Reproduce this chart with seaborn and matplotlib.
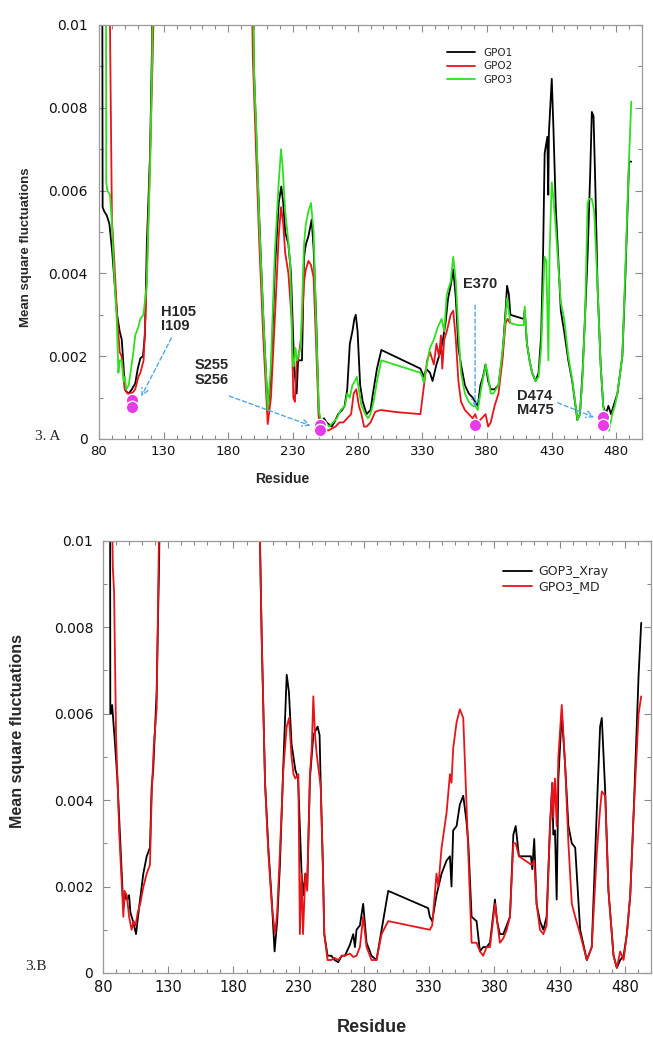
import matplotlib
matplotlib.use("Agg")
import matplotlib.pyplot as plt
from matplotlib.ticker import MultipleLocator
import pandas as pd
import seaborn as sns

# ---------------- data ----------------
x_ticks = [80, 130, 180, 230, 280, 330, 380, 430, 480]
y_ticks = [0, 0.002, 0.004, 0.006, 0.008, 0.01]
y_tick_labels = ["0", "0.002", "0.004", "0.006", "0.008", "0.01"]

series_a = ["GPO1", "GPO2", "GPO3"]
series_b = ["GOP3_Xray", "GPO3_MD"]

gpo1 = [(82.5, 0.012), (82.8, 0.0056), (84, 0.0055), (86, 0.0054), (88, 0.0052), (90, 0.0046), (92, 0.0038),
        (94, 0.003), (95, 0.0028), (96, 0.0026), (97.6, 0.0024), (99, 0.00175), (100, 0.0012), (101, 0.00115),
        (103, 0.0011), (105, 0.00118), (108, 0.00134), (110, 0.0017), (112, 0.00195), (114, 0.002),
        (115.5, 0.0025), (117, 0.0047), (119.5, 0.0069), (121, 0.0095), (122, 0.012),
        (198, 0.012), (200, 0.0088), (202, 0.007), (204, 0.0053), (207, 0.003), (210.5, 0.0007), (213, 0.0015),
        (216, 0.0041), (219, 0.0057), (221, 0.0061), (222.5, 0.0057), (224, 0.005), (226.5, 0.0047),
        (228.5, 0.004), (231, 0.0017), (232.9, 0.0011), (234, 0.0019), (237, 0.0019), (238.6, 0.0044),
        (240, 0.0047), (242, 0.0049), (244.5, 0.0053), (246, 0.0046), (248, 0.0029), (250, 0.0006),
        (252, 0.0004), (254, 0.0005), (256, 0.0004), (258, 0.00035), (260, 0.0003), (262, 0.0004),
        (265, 0.0006), (268, 0.0007), (270, 0.0008), (272, 0.0012), (274, 0.0023), (276, 0.0026),
        (277.5, 0.0029), (278.6, 0.003), (280, 0.0026), (282, 0.0013), (284, 0.0009), (287, 0.0006),
        (290, 0.0007), (292.4, 0.0012), (295, 0.0017), (298.4, 0.00215), (328.6, 0.0017), (330, 0.0016),
        (331.5, 0.0015), (333, 0.0017), (336, 0.0016), (338, 0.0014), (341, 0.0018), (344, 0.0021),
        (346, 0.0024), (348, 0.0028), (350, 0.0034), (352, 0.0037), (354, 0.0041), (356, 0.0034),
        (358, 0.0022), (360, 0.0018), (363, 0.0013), (366, 0.0011), (369, 0.001), (371, 0.0009),
        (373, 0.0008), (375, 0.0013), (377, 0.0015), (379, 0.0018), (381, 0.0014), (383, 0.0012),
        (386, 0.0012), (389, 0.0013), (392, 0.002), (394.5, 0.0031), (395.6, 0.0037), (397, 0.0035),
        (398.2, 0.003), (408.5, 0.0029), (409.3, 0.0031), (411, 0.0023), (413, 0.0019), (415, 0.0016),
        (417.7, 0.0014), (420, 0.0016), (422, 0.0025), (423.5, 0.0045), (424.7, 0.0069), (426.8, 0.0073),
        (427.5, 0.0059), (428, 0.0074), (430.2, 0.0087), (431.5, 0.0075), (433.3, 0.0056), (435, 0.0045),
        (437.2, 0.0031), (439.8, 0.0026), (443, 0.0019), (446, 0.0014), (450, 0.00046), (452, 0.0006),
        (454, 0.0016), (456, 0.003), (458, 0.0045), (460, 0.0065), (461.2, 0.0079), (462.5, 0.0078),
        (464, 0.006), (465.6, 0.0037), (468, 0.0018), (470, 0.0008), (472, 0.0006), (474, 0.0008),
        (476, 0.0006), (478, 0.0008), (481, 0.0011), (484.8, 0.002), (487, 0.0038), (490, 0.0067),
        (491.7, 0.0067)]

gpo2 = [(87.9, 0.012), (88.8, 0.009), (90, 0.0053), (92, 0.0042), (94, 0.003), (96, 0.0021), (97.5, 0.002),
        (99, 0.0015), (100, 0.0012), (102, 0.0011), (104, 0.0011), (106, 0.00112), (108, 0.0012),
        (110.4, 0.0015), (112, 0.0016), (114.5, 0.0019), (116, 0.003), (117.5, 0.0045), (119.5, 0.0068),
        (121.5, 0.0092), (123.3, 0.012),
        (197.7, 0.012), (199, 0.0092), (201, 0.0074), (204, 0.0047), (207, 0.0025), (210.5, 0.00036),
        (213, 0.001), (216, 0.0029), (219, 0.0049), (220.8, 0.0056), (222.5, 0.0052), (224, 0.0045),
        (226.5, 0.004), (229, 0.0029), (230.3, 0.001), (231.5, 0.0009), (232.9, 0.0019), (234, 0.0019),
        (236.5, 0.0025), (238.6, 0.0038), (240, 0.0041), (242, 0.0043), (244, 0.0042), (246, 0.0039),
        (248, 0.0022), (250, 0.0005), (252, 0.0003), (254, 0.0003), (257, 0.0002), (260, 0.00025),
        (263, 0.0003), (266, 0.0004), (269, 0.0004), (272, 0.0005), (275, 0.0006), (277, 0.0011),
        (279, 0.0012), (281, 0.0008), (283, 0.0006), (285, 0.0003), (287, 0.0003), (290, 0.0004),
        (293.7, 0.00066), (298, 0.0007), (310, 0.00065), (328.6, 0.0006), (331, 0.0012), (333.8, 0.0019),
        (336, 0.0021), (339, 0.0018), (341, 0.0023), (343, 0.002), (344.5, 0.0025), (345.5, 0.0017),
        (347, 0.0024), (349, 0.0026), (352, 0.003), (354, 0.0031), (356, 0.0024), (358, 0.0014),
        (360, 0.0009), (363, 0.0007), (366, 0.0006), (369, 0.0005), (371, 0.0006), (373, 0.0004),
        (376, 0.0005), (379, 0.0006), (381, 0.0003), (383, 0.0004), (386, 0.0008), (389, 0.0011),
        (392, 0.0019), (394.5, 0.0028), (396, 0.0029), (398, 0.0028)]

gpo3 = [(85.4, 0.012), (85.6, 0.0062), (86.5, 0.006), (88.5, 0.0059), (90, 0.0052), (92, 0.0038),
        (93.7, 0.0029), (95, 0.0016), (96, 0.0019), (97.5, 0.0019), (99, 0.0014), (100, 0.0015),
        (101, 0.0012), (103, 0.0013), (106.6, 0.0021), (108, 0.0025), (110.4, 0.0027), (112, 0.0029),
        (114.3, 0.003), (116.9, 0.0037), (118, 0.005), (119.5, 0.0065), (121, 0.009), (122, 0.012),
        (198.7, 0.012), (200, 0.0088), (202, 0.0072), (204, 0.0052), (207, 0.003), (210.5, 0.0007),
        (213, 0.0018), (216, 0.0045), (219, 0.0062), (220.8, 0.007), (222, 0.0066), (224, 0.0055),
        (226, 0.0049), (228, 0.0042), (229.7, 0.0019), (230.5, 0.00175), (232, 0.0022), (233, 0.0019),
        (236, 0.0022), (238.6, 0.0047), (240, 0.0052), (242, 0.0055), (244, 0.0057), (246, 0.005),
        (248, 0.0027), (250, 0.0007), (252, 0.0004), (255, 0.0004), (258, 0.0003), (261, 0.0004),
        (264, 0.0005), (267, 0.0007), (270.3, 0.0008), (272, 0.0011), (274, 0.001), (276, 0.0013),
        (278, 0.0014), (279.5, 0.0015), (281, 0.0012), (283, 0.0008), (286, 0.0006), (288, 0.0005),
        (290, 0.0006), (292.4, 0.0009), (295, 0.0014), (298.4, 0.0019), (328.6, 0.0016), (330, 0.0015),
        (331.2, 0.00136), (333, 0.0017), (336, 0.0022), (339, 0.0024), (342, 0.0027), (345, 0.0029),
        (347, 0.0026), (349, 0.0035), (352, 0.0038), (354, 0.0044), (356, 0.0038), (358, 0.0026),
        (360, 0.0016), (363, 0.0011), (366, 0.0009), (369, 0.0008), (371, 0.0008), (373, 0.0007),
        (376, 0.0013), (379.2, 0.0018), (381, 0.0015), (383, 0.0011), (385, 0.0011), (389, 0.0013),
        (393, 0.0024), (395.6, 0.0034), (398.2, 0.0028), (404, 0.00275), (408.5, 0.00275), (409.3, 0.0032),
        (411, 0.0023), (413, 0.0019), (415, 0.0016), (417.7, 0.0014), (420, 0.0015), (422, 0.0022),
        (423.5, 0.0035), (424.7, 0.0044), (426, 0.0043), (427.6, 0.0019), (428.5, 0.0045), (430.2, 0.0062),
        (431.5, 0.0058), (433.3, 0.0051), (435, 0.0043), (437.2, 0.0033), (439.8, 0.0029), (443, 0.002),
        (446.2, 0.0014), (450.1, 0.00046), (452, 0.0006), (454, 0.0015), (456, 0.003), (457.9, 0.0057),
        (459, 0.0058), (461.2, 0.0058), (463, 0.0055), (465.6, 0.0037), (468, 0.0018), (470, 0.0008),
        (472, 0.0004), (474.5, 0.0002), (477, 0.0006), (479, 0.0008), (481, 0.0011), (484.8, 0.002),
        (486.8, 0.0038), (489.9, 0.0067), (491.7, 0.00815)]

gop3_xray = [(85.4, 0.012), (85.6, 0.006), (86.2, 0.006), (87, 0.0062), (89.2, 0.0053), (91, 0.0045),
             (93, 0.0032), (95.6, 0.0015), (97, 0.0018), (98.5, 0.0017), (100, 0.0018), (101, 0.0014),
             (103, 0.0012), (105.3, 0.0009), (108, 0.0016), (110.9, 0.0023), (113.5, 0.0027), (116, 0.0029),
             (117.3, 0.0043), (118.5, 0.0047), (121.1, 0.0065), (123, 0.0095), (124, 0.012),
             (199.2, 0.012), (201.6, 0.0078), (204.2, 0.0044), (206.7, 0.0029), (209.3, 0.0017),
             (211.5, 0.0005), (213.5, 0.0012), (215.6, 0.0025), (218.2, 0.0048), (220.8, 0.0069),
             (222.5, 0.0065), (224.5, 0.0053), (227.4, 0.0047), (229.5, 0.0045), (232.2, 0.0023),
             (233.5, 0.0018), (235.1, 0.0023), (236.5, 0.002), (238.6, 0.0045), (241.2, 0.0055),
             (244.5, 0.0057), (246, 0.0055), (246.9, 0.0043), (248.5, 0.0025), (249.6, 0.0009),
             (252.1, 0.0004), (255, 0.0004), (257.5, 0.0003), (260.3, 0.00025), (263, 0.0004),
             (265.4, 0.0004), (269.2, 0.00065), (271.8, 0.0009), (273.1, 0.0006), (274.3, 0.001),
             (276.9, 0.0011), (279.4, 0.0016), (282, 0.0007), (285.8, 0.0004), (289.6, 0.0003),
             (293.5, 0.001), (298.6, 0.0019), (329.2, 0.0015), (330.5, 0.0013), (332.3, 0.0012),
             (335.6, 0.0018), (339.5, 0.0023), (343.3, 0.0026), (345.9, 0.0027), (347.1, 0.002),
             (348.4, 0.0033), (351, 0.0034), (353.5, 0.0039), (356.1, 0.0041), (358.6, 0.0035),
             (360, 0.003), (362.5, 0.0013), (366.3, 0.0012), (368.9, 0.0005), (371.4, 0.0006),
             (374, 0.0006), (376.6, 0.0007), (380.4, 0.0017), (382, 0.0012), (384.2, 0.0009),
             (386.8, 0.0009), (389.4, 0.0011), (391.9, 0.0013), (394.5, 0.0032), (396.3, 0.0034),
             (398.8, 0.0027), (408, 0.0027), (409, 0.0024), (410.5, 0.0031), (412.3, 0.0016),
             (414.9, 0.0012), (417.5, 0.001), (420, 0.0013), (422.6, 0.0034), (424.4, 0.0044),
             (425.1, 0.0032), (426.4, 0.0033), (427.7, 0.0017), (429, 0.0045), (431.6, 0.006),
             (434.2, 0.0048), (436.7, 0.0034), (439.3, 0.003), (441.9, 0.0029), (445.7, 0.001),
             (450.8, 0.0003), (454.6, 0.0006), (458.5, 0.0038), (461, 0.0057), (462.3, 0.0059),
             (464.9, 0.0042), (467.4, 0.0019), (471.3, 0.0004), (473.8, 0.00012), (476.4, 0.0003),
             (479, 0.0004), (481.5, 0.0009), (484.1, 0.0018), (486.7, 0.0037), (489.2, 0.0058),
             (490.5, 0.0069), (492.5, 0.0081)]

gpo3_md = [(86.4, 0.012), (87.5, 0.0094), (88.5, 0.0088), (90, 0.0055), (92.5, 0.0032), (95.6, 0.0013),
           (96.5, 0.0019), (98.2, 0.0018), (100, 0.0013), (101.9, 0.001), (103.5, 0.0012), (105, 0.0011),
           (106.6, 0.0014), (108.5, 0.0016), (111, 0.002), (113.5, 0.0023), (116, 0.0025), (117.3, 0.0041),
           (119, 0.0053), (121.1, 0.0061), (123.7, 0.012),
           (199, 0.012), (201.6, 0.0078), (204.2, 0.0044), (206.7, 0.0028), (209.3, 0.0016),
           (211.8, 0.0009), (213.5, 0.0014), (215.6, 0.0028), (218.2, 0.0047), (220.8, 0.0057),
           (222.6, 0.0059), (224.5, 0.005), (226, 0.0046), (227.4, 0.0045), (229.7, 0.0046),
           (230.9, 0.0009), (232.2, 0.0023), (233.3, 0.0009), (235.1, 0.0023), (236.5, 0.0019),
           (238.6, 0.0046), (240, 0.0052), (241.2, 0.0064), (242.5, 0.0055), (244, 0.005),
           (246.9, 0.0043), (248.5, 0.0025), (249.6, 0.0009), (252.1, 0.0003), (255, 0.0003),
           (257.5, 0.00035), (260.3, 0.0003), (263, 0.0004), (265.4, 0.0004), (269.2, 0.00045),
           (271.8, 0.00037), (274.3, 0.0004), (276.9, 0.0006), (279.4, 0.0013), (282, 0.0006),
           (285.8, 0.0003), (289.6, 0.0003), (293.5, 0.0009), (298.6, 0.0012), (330.5, 0.001),
           (332.3, 0.0011), (335.6, 0.0023), (337, 0.002), (339.5, 0.0029), (343.3, 0.0037),
           (345.9, 0.0046), (347.1, 0.0044), (348.4, 0.0052), (351, 0.0058), (353.5, 0.0061),
           (356.1, 0.0059), (358.6, 0.0039), (362.5, 0.0007), (366.3, 0.0007), (368.9, 0.0005),
           (371.4, 0.0004), (374, 0.0006), (376.6, 0.0006), (380.4, 0.0016), (384.2, 0.0007),
           (386.8, 0.0008), (389.4, 0.001), (391.9, 0.0013), (394.5, 0.003), (396.3, 0.003),
           (398.8, 0.0027), (408.5, 0.0025), (410.5, 0.0026), (412.3, 0.0016), (414.9, 0.001),
           (417.5, 0.0009), (420, 0.0011), (422.6, 0.0034), (424.4, 0.0044), (425.1, 0.0036),
           (426.4, 0.0045), (427.7, 0.0034), (429, 0.005), (431.6, 0.0062), (434.2, 0.0048),
           (436.7, 0.003), (439.3, 0.0016), (441.9, 0.0013), (445.7, 0.0009), (450.8, 0.0003),
           (454.6, 0.0006), (458.5, 0.0028), (461, 0.0038), (462.3, 0.0042), (464.9, 0.0041),
           (467.4, 0.0019), (471.3, 0.0004), (473.8, 0.00012), (476.4, 0.0005), (479, 0.0003),
           (481.5, 0.0009), (484.1, 0.0018), (486.7, 0.0037), (489.2, 0.0052), (490.5, 0.006),
           (492.5, 0.0064)]

# highlighted residues (marker positions as drawn) and their labels
site_res = [105.8, 105.8, 251, 251, 370.9, 469.7, 469.7]
site_val = [0.00094, 0.00077, 0.00034, 0.00022, 0.00034, 0.00054, 0.00034]
site_labels = ["H105\nI109", "S255\nS256", "E370", "D474\nM475"]
label_pos = [(128, 0.0029), (154.3, 0.0016), (361.8, 0.00374), (403.2, 0.00087)]
arrow_from = [(137, 0.0025), (178.8, 0.00106), (370.9, 0.0033), (432.8, 0.0009)]
arrow_to = [(111.7, 0.00097), (245.6, 0.0003), (370.9, 0.0007), (465, 0.0005)]

# ---------------- style ----------------
sns.set_theme(style="ticks")
plt.rcParams["font.family"] = ["DejaVu Sans"]
BOLD = ["Liberation Sans", "DejaVu Sans"]
SERIF = ["Liberation Serif", "DejaVu Serif"]

fig = plt.figure(figsize=(6.53, 10.5), dpi=100)
W, H = 653.0, 1050.0
axA = fig.add_axes([99 / W, 1 - 439 / H, 543 / W, 414 / H])
axB = fig.add_axes([103 / W, 1 - 973 / H, 548 / W, 432.3 / H])


def draw(ax, pts, color, label):
    df = pd.DataFrame(pts, columns=["res", "msf"])
    sns.lineplot(data=df, x="res", y="msf", ax=ax, color=color, lw=1.3,
                 sort=False, estimator=None, label=label)


draw(axA, gpo1, "black", series_a[0])
draw(axA, gpo2, "#e8141a", series_a[1])
draw(axA, gpo3, "#2fe020", series_a[2])

draw(axB, gop3_xray, "black", series_b[0])
draw(axB, gpo3_md, "#e8141a", series_b[1])

sns.scatterplot(x=site_res, y=site_val, ax=axA, color="#e63be6", s=80,
                edgecolor="white", linewidth=1.0, zorder=5, legend=False)

for txt, (tx, ty), (fx, fy), (ex, ey) in zip(site_labels, label_pos, arrow_from, arrow_to):
    axA.text(tx, ty, txt, ha="left", va="center", fontsize=10.5, fontweight="bold",
             family=BOLD, linespacing=1.05)
    axA.annotate("", xy=(ex, ey), xytext=(fx, fy),
                 arrowprops=dict(arrowstyle="->", ls=(0, (3, 2)), color="#4fa8ea", lw=1.0))


def style(ax, xfs, yfs, xpad, ypad):
    ax.set_xlim(80, 500)
    ax.set_ylim(0, 0.01)
    ax.set_xticks(x_ticks)
    ax.set_xticklabels([str(t) for t in x_ticks], fontsize=xfs)
    ax.xaxis.set_minor_locator(MultipleLocator(10))
    ax.set_yticks(y_ticks)
    ax.set_yticklabels(y_tick_labels, fontsize=yfs)
    ax.yaxis.set_minor_locator(MultipleLocator(0.001))
    ax.tick_params(which="both", direction="in", top=True, right=True, color="#8a8a8a", width=0.8)
    ax.tick_params(which="major", length=5)
    ax.tick_params(which="minor", length=3)
    ax.tick_params(axis="x", pad=xpad, labelcolor="#111111")
    ax.tick_params(axis="y", pad=ypad, labelcolor="#111111")
    for s in ax.spines.values():
        s.set_color("#9a9a9a")
        s.set_linewidth(0.9)
    ax.set_xlabel("")
    ax.set_ylabel("")


style(axA, 9.5, 10, 4, 8)
style(axB, 10.5, 10, 5, 7)

axA.legend(loc="upper left", bbox_to_anchor=(0.641, 0.945), frameon=False, fontsize=7.5,
           handlelength=2.7, handletextpad=0.75, labelspacing=0.35, borderpad=0, borderaxespad=0)
axB.legend(loc="upper left", bbox_to_anchor=(0.73, 0.943), frameon=False, fontsize=9,
           handlelength=2.3, handletextpad=0.5, labelspacing=0.15, borderpad=0, borderaxespad=0)

fig.text(26 / W, 1 - 247 / H, "Mean square fluctuations", rotation=90, ha="center", va="center",
         fontsize=9.5, fontweight="bold", family=BOLD)
fig.text(18 / W, 1 - 731 / H, "Mean square fluctuations", rotation=90, ha="center", va="center",
         fontsize=11.5, fontweight="bold", family=BOLD)
fig.text(282 / W, 1 - 479 / H, "Residue", ha="center", va="center", fontsize=10,
         fontweight="bold", family=BOLD)
fig.text(372 / W, 1 - 1027 / H, "Residue", ha="center", va="center", fontsize=13,
         fontweight="bold", family=BOLD)
fig.text(35 / W, 1 - 437 / H, "3. A", ha="left", va="center", fontsize=11, family=SERIF)
fig.text(25 / W, 1 - 967 / H, "3.B", ha="left", va="center", fontsize=11, family=SERIF)

fig.savefig("out.png", dpi=100, facecolor="white")
